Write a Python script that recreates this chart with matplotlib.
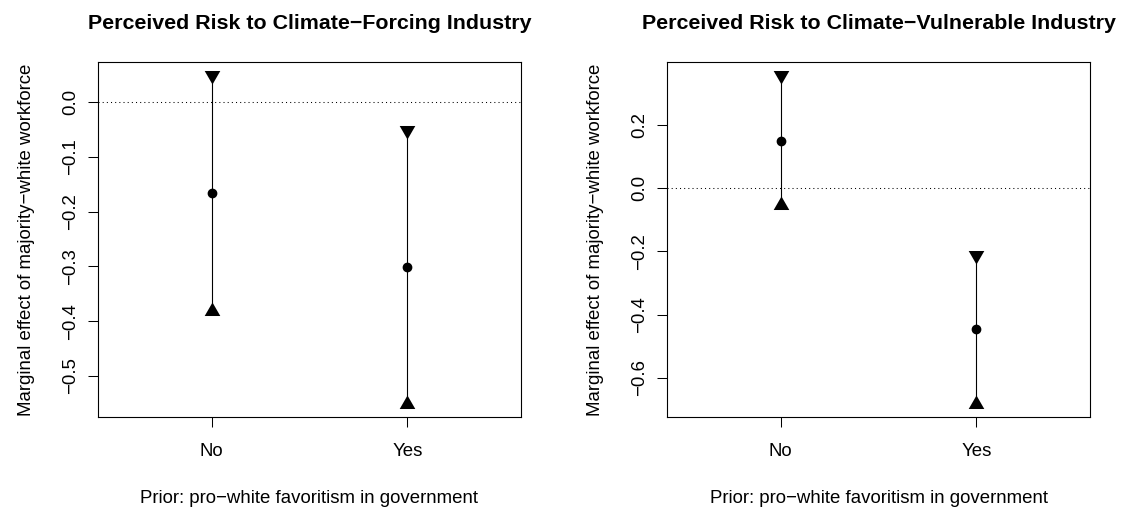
import matplotlib
matplotlib.use("Agg")
import matplotlib.pyplot as plt

plt.rcParams['font.family'] = ['Liberation Sans', 'DejaVu Sans']

# values
groups = ['No', 'Yes']
forcing_est = [-0.167, -0.301]
forcing_lo = [-0.382, -0.551]
forcing_hi = [0.049, -0.052]
vuln_est = [0.149, -0.446]
vuln_lo = [-0.054, -0.682]
vuln_hi = [0.357, -0.210]

forcing_ticks = [0.0, -0.1, -0.2, -0.3, -0.4, -0.5]
vuln_ticks = [0.2, 0.0, -0.2, -0.4, -0.6]

titles = ['Perceived Risk to Climate\u2212Forcing Industry',
          'Perceived Risk to Climate\u2212Vulnerable Industry']
xlab = 'Prior: pro\u2212white favoritism in government'
ylab = 'Marginal effect of majority\u2212white workforce'

W, H = 1127, 512
fig = plt.figure(figsize=(W / 100, H / 100), dpi=100)

# R style filled triangles (centroid on the value)
tri_up = [(0, 1), (-0.866, -0.5), (0.866, -0.5)]
tri_down = [(0, -1), (-0.866, 0.5), (0.866, 0.5)]


def panel(box, est, lo, hi, yticks, title):
    left, top, right, bottom = box
    ax = fig.add_axes([left / W, 1 - bottom / H, (right - left) / W, (bottom - top) / H])
    x = [1, 2]
    for i in range(len(x)):
        ax.plot([x[i], x[i]], [lo[i], hi[i]], color='black', lw=0.8)
    ax.plot(x, est, 'o', color='black', ms=6)
    ax.plot(x, lo, marker=tri_up, ls='none', color='black', ms=13, mew=0)
    ax.plot(x, hi, marker=tri_down, ls='none', color='black', ms=13, mew=0)
    ax.axhline(0, color='black', lw=0.75, ls=(0, (1, 3)))

    # R pads the data range by 4 %
    ymin, ymax = min(lo), max(hi)
    r = ymax - ymin
    ax.set_ylim(ymin - 0.04 * r, ymax + 0.04 * r)
    ax.set_xlim(0.5 - 0.08, 2.5 + 0.08)

    ax.set_xticks(x)
    ax.set_xticklabels(groups)
    ax.set_yticks(yticks)
    ax.set_yticklabels(['%.1f' % v if v >= 0 else '\u2212%.1f' % -v for v in yticks],
                       rotation=90, va='center')
    ax.tick_params(direction='out', length=7.2, width=0.75, labelsize=13.4, color='black')
    ax.tick_params(axis='x', pad=11.6)
    ax.tick_params(axis='y', pad=6.4)
    for s in ax.spines.values():
        s.set_linewidth(0.8)
        s.set_color('black')

    cx = (left + right) / 2
    fig.text(cx / W, 1 - 29 / H, title, ha='center', va='baseline',
             fontsize=15.4, fontweight='bold')
    fig.text(cx / W, 1 - 503 / H, xlab, ha='center', va='baseline', fontsize=13.4)
    fig.text((left - 67) / W, 1 - (top + bottom) / 2 / H, ylab, rotation=90,
             rotation_mode='anchor', ha='center', va='baseline', fontsize=13.4)
    return ax


panel((98, 62, 521, 417), forcing_est, forcing_lo, forcing_hi, forcing_ticks, titles[0])
panel((667, 62, 1090, 417), vuln_est, vuln_lo, vuln_hi, vuln_ticks, titles[1])

fig.savefig('out.png', dpi=100)
